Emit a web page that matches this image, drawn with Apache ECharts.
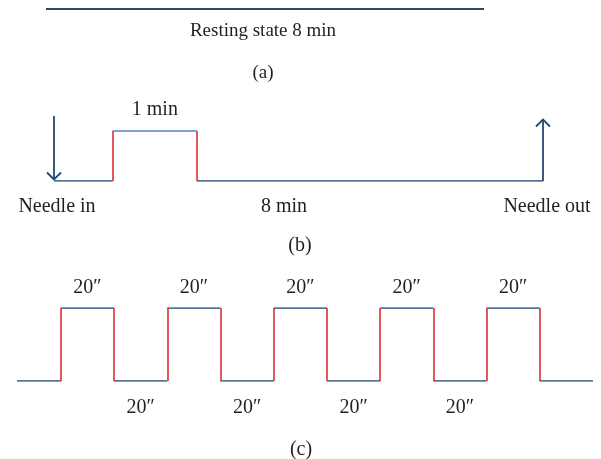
<!DOCTYPE html>
<html><head><meta charset="utf-8">
<script src="https://cdn.jsdelivr.net/npm/echarts@6/dist/echarts.min.js"></script>
<style>html,body{margin:0;padding:0;background:#fff}#c{width:601px;height:459px}</style>
</head><body><div id="c"></div>
<script>
// Panel (a): resting state, minutes
const aRestMinutes = 8;
// Panel (b): schematic timeline (minutes, schematic spacing), levels 0 = off, 1 = stimulation
const bLevels = [0, 1, 0];
const bDurations = [0.7, 1, 4.12];
const bLabels = ['', '1 min', ''];
const bNeedleIn = 1.3;   // arrow height (schematic)
const bNeedleOut = 1.26;
// Panel (c): alternating 20 s blocks (seconds)
const cLevels = [0, 1, 0, 1, 0, 1, 0, 1, 0, 1, 0];
const cDurations = [16.5, 20, 20, 20, 20, 20, 20, 20, 20, 20, 20];
const cLabels = ['', '20\u2033', '20\u2033', '20\u2033', '20\u2033', '20\u2033', '20\u2033', '20\u2033', '20\u2033', '20\u2033', ''];

const DARK = '#22496f', LIGHT = '#4f86c6', RED = '#d8312f', TXT = '#231f20';
const FONT = '"Liberation Serif", "DejaVu Serif", serif';
const FS = 20;

function build(levels, durations, labels, topColor, topDist, botDist) {
  const hor = [], ver = [], lab = [];
  let t = 0;
  levels.forEach((lv, i) => {
    const t1 = t + durations[i];
    hor.push({coords: [[t, lv], [t1, lv]], lineStyle: {color: lv ? topColor : DARK}});
    if (i > 0 && levels[i - 1] !== lv) ver.push({coords: [[t, levels[i - 1]], [t, lv]]});
    if (labels[i]) lab.push({value: [(t + t1) / 2, lv], label: {show: true, formatter: labels[i],
      color: TXT, position: lv ? 'top' : 'bottom', distance: lv ? topDist : botDist}});
    t = t1;
  });
  return {hor, ver, lab, total: t};
}

const B = build(bLevels, bDurations, bLabels, LIGHT, 11, 17);
const C = build(cLevels, cDurations, cLabels, DARK, 10, 17);

function linesSeries(i, data, color, width, z) {
  return {type: 'lines', coordinateSystem: 'cartesian2d', xAxisIndex: i, yAxisIndex: i, z: z || 2,
    lineStyle: {color: color, width: width, opacity: 1}, data: data, silent: true};
}
const labelBase = {color: TXT, fontFamily: FONT, fontSize: FS, lineHeight: FS};

const arrowSeries = {
  type: 'custom', coordinateSystem: 'cartesian2d', xAxisIndex: 1, yAxisIndex: 1, silent: true, clip: false, z: 4,
  data: [[0, bNeedleIn, 0], [B.total, 0, bNeedleOut]],
  renderItem: function (params, api) {
    const p0 = api.coord([api.value(0), api.value(1)]);
    const p1 = api.coord([api.value(0), api.value(2)]);
    const dir = p1[1] > p0[1] ? 1 : -1;
    const st = {stroke: DARK, lineWidth: 1.8, fill: 'none'};
    return {type: 'group', children: [
      {type: 'line', shape: {x1: p0[0], y1: p0[1], x2: p1[0], y2: p1[1] - dir * 1.5}, style: st},
      {type: 'polyline', shape: {points: [[p1[0] - 7, p1[1] - dir * 8.5], [p1[0], p1[1] - dir * 1.5], [p1[0] + 7, p1[1] - dir * 8.5]]}, style: st}
    ]};
  }
};

const option = {
  animation: false,
  backgroundColor: '#fff',
  grid: [
    {left: 46, width: 438, top: 9, height: 10},
    {left: 54, width: 489, top: 116, height: 65},
    {left: 17, width: 576, top: 308, height: 73}
  ],
  xAxis: [
    {gridIndex: 0, type: 'value', min: 0, max: aRestMinutes, show: false},
    {gridIndex: 1, type: 'value', min: 0, max: B.total, show: false},
    {gridIndex: 2, type: 'value', min: 0, max: C.total, show: false}
  ],
  yAxis: [
    {gridIndex: 0, type: 'value', min: 0, max: 1, show: false},
    {gridIndex: 1, type: 'value', min: 0, max: bNeedleIn, show: false},
    {gridIndex: 2, type: 'value', min: 0, max: 1, show: false}
  ],
  series: [
    linesSeries(0, [{coords: [[0, 1], [aRestMinutes, 1]]}], DARK, 2),
    linesSeries(1, B.hor, DARK, 1.6),
    linesSeries(1, B.ver, RED, 1.6, 3),
    arrowSeries,
    linesSeries(2, C.hor, DARK, 1.6),
    linesSeries(2, C.ver, RED, 1.6, 3),
    {type: 'scatter', xAxisIndex: 1, yAxisIndex: 1, symbolSize: 0, data: B.lab, label: labelBase,
      itemStyle: {opacity: 1}, silent: true},
    {type: 'scatter', xAxisIndex: 2, yAxisIndex: 2, symbolSize: 0, data: C.lab, label: labelBase,
      itemStyle: {opacity: 1}, silent: true}
  ],
  graphic: [
    ['Resting state 8 min', 263, 31, 19], ['(a)', 263, 73, 19],
    ['Needle in', 57, 207, FS], ['8 min', 284, 207, FS], ['Needle out', 547, 207, FS], ['(b)', 300, 246, FS],
    ['(c)', 301, 450, FS]
  ].map(([t, x, y, s]) => ({type: 'text', x: x, y: y, silent: true,
    style: {text: t, textAlign: 'center', textVerticalAlign: 'middle', font: s + 'px ' + FONT, fill: TXT}}))
};
const chart = echarts.init(document.getElementById('c'));
chart.setOption(option);
</script></body></html>
